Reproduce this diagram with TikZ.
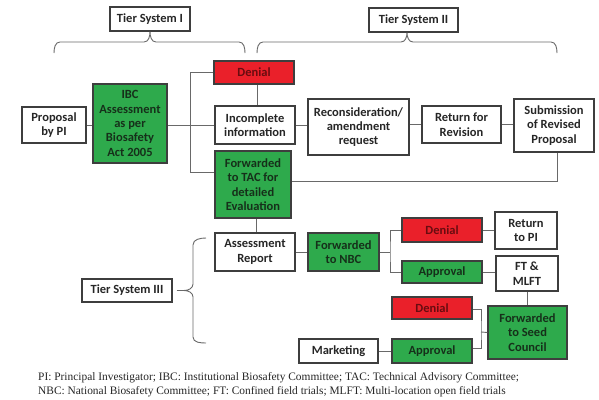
\documentclass[tikz,border=0pt]{standalone}
\usepackage{fontspec}
\setmainfont{Liberation Serif}
\newfontfamily\boxfont{Carlito}
\definecolor{gfill}{RGB}{46,170,76}
\definecolor{rfill}{RGB}{234,32,42}
\definecolor{rtext}{RGB}{105,12,16}
\definecolor{gtext}{RGB}{22,48,26}
\definecolor{btext}{RGB}{38,38,38}
\definecolor{bord}{RGB}{62,62,62}
\definecolor{conn}{RGB}{105,105,105}
\tikzset{
  base/.style={draw=bord, line width=1.1pt, align=center, inner sep=1pt,
    font=\boxfont\bfseries\fontsize{12.5}{14.4}\selectfont},
  wbox/.style={base, fill=white, text=btext},
  gbox/.style={base, fill=gfill, text=gtext},
  rbox/.style={base, fill=rfill, text=rtext},
  sz/.style 2 args={minimum width=#1pt, minimum height=#2pt},
  con/.style={draw=conn, line width=0.9pt},
  brc/.style={draw=conn, line width=0.9pt},
}
\begin{document}
\begin{tikzpicture}[x=1pt,y=-1pt]
\useasboundingbox[fill=white] (0,0) rectangle (599,399);
% tier labels
\node[wbox, sz={80}{24}] (tier1) at (150,19) {Tier System I};
\node[wbox, sz={89}{24}] (tier2) at (413.5,20) {Tier System II};
\node[wbox, sz={90}{23}] (tier3) at (127,290.5) {Tier System III};
% row 1
\node[rbox, sz={80}{23}] (denA) at (254,72.5) {Denial};
\node[wbox, sz={64}{36}] (prop) at (54,125) {Proposal\\by PI};
\node[gbox, sz={74}{79}] (ibc) at (130,123.5) {IBC\\Assessment\\as per\\Biosafety\\Act 2005};
\node[wbox, sz={80}{38}] (inc) at (255,125) {Incomplete\\information};
\node[gbox, sz={76}{67}] (tac) at (253,184.5) {Forwarded\\to TAC for\\detailed\\Evaluation};
\node[wbox, sz={101}{56}] (recon) at (358.5,127) {Reconsideration/\\amendment\\request};
\node[wbox, sz={79}{37}] (ret) at (461.5,124.5) {Return for\\Revision};
\node[wbox, sz={80}{53}] (sub) at (554,125.5) {Submission\\of Revised\\Proposal};
% lower part
\node[wbox, sz={80}{38}] (assess) at (255,252) {Assessment\\Report};
\node[gbox, sz={71}{38}] (nbc) at (343.5,252) {Forwarded\\to NBC};
\node[rbox, sz={80}{24}] (denB) at (442,230) {Denial};
\node[gbox, sz={80}{22}] (appA) at (442,272) {Approval};
\node[wbox, sz={62}{37}] (retpi) at (526,230.5) {Return\\to PI};
\node[wbox, sz={62}{35}] (ftm) at (527,273.5) {FT \&\\MLFT};
\node[gbox, sz={79}{53}] (seed) at (527.5,332.5) {Forwarded\\to Seed\\Council};
\node[rbox, sz={80}{22}] (denC) at (432,308) {Denial};
\node[gbox, sz={80}{24}] (appB) at (432,351) {Approval};
\node[wbox, sz={79}{24}] (mkt) at (338.5,351) {Marketing};
% connectors
\coordinate (jA) at (190,72.5);
\coordinate (jB) at (190,172);
\coordinate (j2) at (390,252);
\coordinate (j3) at (481,332);
\draw[con] (prop.east) -- (ibc.west |- prop.east);
\draw[con] (ibc.east |- inc.west) -- (inc.west);
\draw[con] (denA.west) -- (jA) -- (jB) -- (jB -| tac.west);
\draw[con] ([xshift=3pt]denA.south) -- ([xshift=3pt]denA.south |- inc.north);
\draw[con] (inc.east) -- (inc.east -| recon.west);
\draw[con] (recon.east |- ret.west) -- (ret.west);
\draw[con] (ret.east) -- (ret.east -| sub.west);
\draw[con] ([xshift=3pt]sub.south) |- ([yshift=3pt]tac.east);
\draw[con] ([xshift=3pt]tac.south) -- ([xshift=3pt]tac.south |- assess.north);
\draw[con] (assess.east) -- (nbc.west);
\draw[con] (nbc.east) -- (j2);
\draw[con] (denB.west) -| (j2) |- (appA.west);
\draw[con] (denB.east) -- (denB.east -| retpi.west);
\draw[con] (appA.east) -- (appA.east -| ftm.west);
\draw[con] (ftm.south) -- (ftm.south |- seed.north);
\draw[con] (seed.west) -- (j3);
\draw[con] ([yshift=-1pt]denC.east) -| (j3) |- ([yshift=3pt]appB.east);
\draw[con] (mkt.east) -- (appB.west);
% braces
\coordinate (t1) at (tier1.south);
\draw[brc] (54,53) to[out=90,in=180] (60,42) -- (144,42) to[out=0,in=-90] (t1)
  to[out=-90,in=180] (156,42) -- (239,42) to[out=0,in=90] (245,53);
\coordinate (t2) at ([xshift=-6.5pt]tier2.south);
\draw[brc] (257,53) to[out=90,in=180] (263,42) -- (401,42) to[out=0,in=-90] (t2)
  to[out=-90,in=180] (413,42) -- (551,42) to[out=0,in=90] (557,53);
\coordinate (t3) at (184,290.5);
\draw[brc] (206,238) to[out=180,in=90] (193,245) -- (193,284) to[out=-90,in=0] (t3)
  to[out=0,in=90] (193,297) -- (193,337) to[out=-90,in=180] (206,343);
\draw[brc] ([xshift=4pt]tier3.east) -- (t3);
% caption
\node[anchor=west, font=\fontsize{11.4}{13.6}\selectfont, text=black!85, align=left, inner sep=0pt] (cap) at (38,385)
 {PI: Principal Investigator; IBC: Institutional Biosafety Committee; TAC: Technical Advisory Committee;\\
  NBC: National Biosafety Committee; FT: Confined field trials; MLFT: Multi-location open field trials};
\end{tikzpicture}
\end{document}
